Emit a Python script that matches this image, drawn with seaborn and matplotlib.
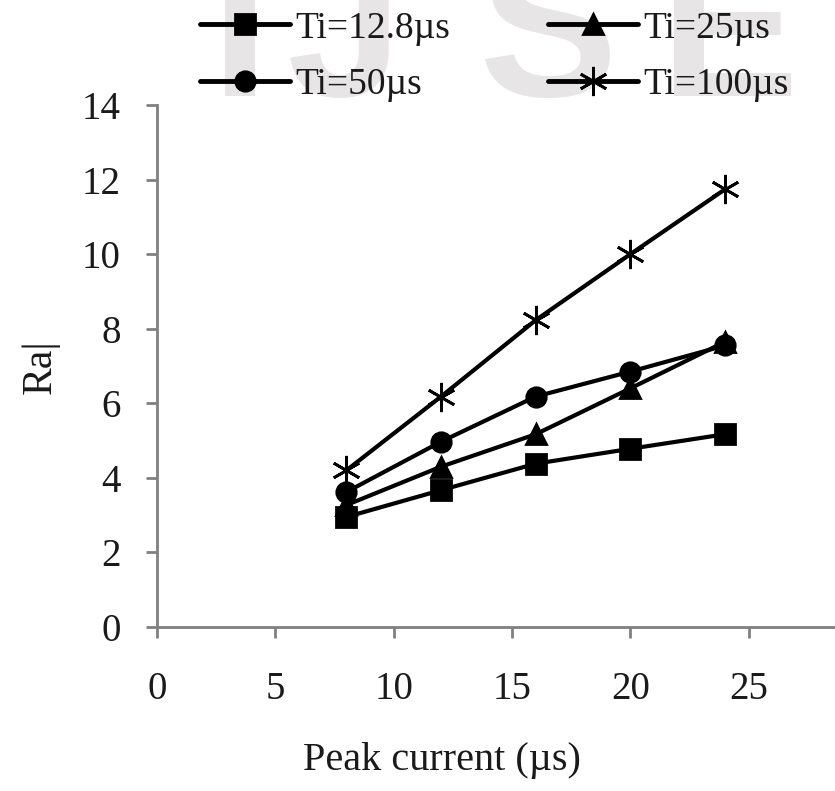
import matplotlib
matplotlib.use("Agg")
import matplotlib.pyplot as plt
import seaborn as sns
import pandas as pd

# data
peak_current = [8, 12, 16, 20, 24]
ra_ti_12_8 = [2.95, 3.67, 4.38, 4.78, 5.17]
ra_ti_25 = [3.27, 4.30, 5.17, 6.40, 7.65]
ra_ti_50 = [3.62, 4.97, 6.18, 6.85, 7.55]
ra_ti_100 = [4.20, 6.18, 8.23, 10.00, 11.74]

series_labels = ["Ti=12.8µs", "Ti=25µs", "Ti=50µs", "Ti=100µs"]
y_ticks = [0, 2, 4, 6, 8, 10, 12, 14]
x_ticks = [0, 5, 10, 15, 20, 25]

sns.set_theme(style="white")
plt.rcParams["font.family"] = ["Liberation Serif", "DejaVu Serif"]

W, H = 835, 791
fig = plt.figure(figsize=(W / 100, H / 100), dpi=100)

# faint watermark letters behind everything
wm = dict(color="#e8e5e6", fontsize=150, fontweight="bold",
          family=["Liberation Sans"], ha="center", va="baseline", zorder=0)
for ch, px in zip("IJSE", [240, 345, 548, 730]):
    fig.text(px / W, 1 - 96 / H, ch, **wm)

ax = fig.add_axes([157 / W, (H - 627) / H, (W - 157) / W, (627 - 105) / H])
ax.patch.set_alpha(0)

df = pd.DataFrame({
    "x": peak_current * 4,
    "y": ra_ti_12_8 + ra_ti_25 + ra_ti_50 + ra_ti_100,
    "series": [s for s in series_labels for _ in peak_current],
})

markers = {"Ti=12.8µs": ("s", 15), "Ti=25µs": ("^", 15),
           "Ti=50µs": ("o", 14), "Ti=100µs": ((6, 2, 0), 21)}

for name in series_labels:
    m, ms = markers[name]
    sns.lineplot(data=df[df["series"] == name], x="x", y="y", ax=ax,
                 color="black", linewidth=3.0, marker=m, markersize=ms,
                 markeredgecolor="black", markeredgewidth=2.0,
                 label=name, legend=False)

ax.set_xlim(0, (W - 157) / 23.67)
ax.set_ylim(0, 14)
ax.set_xticks(x_ticks)
ax.set_yticks(y_ticks)
for side in ["top", "right"]:
    ax.spines[side].set_visible(False)
for side in ["left", "bottom"]:
    ax.spines[side].set_color("#808080")
    ax.spines[side].set_linewidth(2.0)
ax.tick_params(axis="both", direction="out", length=8, width=2.0,
               color="#808080", labelsize=28, labelcolor="#1a1a1a",
               left=True, bottom=True)
ax.tick_params(axis="y", pad=18)
ax.tick_params(axis="x", pad=24)

ax.set_xlabel("Peak current (µs)", fontsize=29, color="#1a1a1a")
ax.xaxis.set_label_coords((442 - 157) / (W - 157), (627 - 742) / (627 - 105))
ax.set_ylabel("Ra|", fontsize=30, color="#1a1a1a")
ax.yaxis.set_label_coords((60 - 157) / (W - 157), 0.498)

handles, labels = ax.get_legend_handles_labels()
order = [0, 2, 1, 3]
leg = fig.legend([handles[i] for i in order], [labels[i] for i in order],
                 loc="upper left", bbox_to_anchor=(200 / W, 1 - 11 / H),
                 ncol=2, frameon=False, fontsize=27, handlelength=2.4,
                 handletextpad=0.15, columnspacing=2.6, labelspacing=0.6,
                 borderpad=0, borderaxespad=0)
for t in leg.get_texts():
    t.set_color("#1a1a1a")
for h in leg.legend_handles:
    h.set_linewidth(3.5)

fig.savefig("out.png", dpi=100)
